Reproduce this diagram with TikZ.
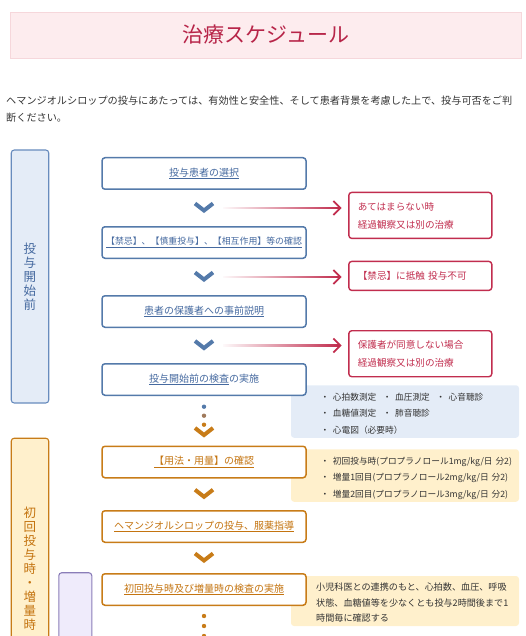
\documentclass[tikz,border=0pt]{standalone}
\usepackage{fontspec}
\setmainfont{Noto Sans CJK JP}
\usetikzlibrary{positioning,arrows.meta,calc}
\definecolor{schblue}{RGB}{84,122,170}
\definecolor{schbar}{RGB}{104,140,190}
\definecolor{schbtxt}{RGB}{70,106,160}
\definecolor{schbfill}{RGB}{228,236,247}
\definecolor{schred}{RGB}{193,45,78}
\definecolor{schttl}{RGB}{183,36,72}
\definecolor{schorg}{RGB}{200,124,24}
\definecolor{schotxt}{RGB}{196,116,16}
\definecolor{schofill}{RGB}{255,240,204}
\definecolor{schpfill}{RGB}{239,235,251}
\definecolor{schpurple}{RGB}{138,125,184}
\definecolor{schpink}{RGB}{253,236,238}
\definecolor{schpinkd}{RGB}{246,215,219}
\definecolor{schgray}{RGB}{51,51,51}
\definecolor{schbrown}{RGB}{160,122,92}
\tikzset{
  stepb/.style={draw=schblue,line width=1.5pt,rounded corners=3pt,fill=white,minimum width=204pt,minimum height=31.5pt,inner sep=0pt,text=schbtxt,font=\fontsize{10}{12}\selectfont},
  stepo/.style={stepb,draw=schorg,text=schotxt},
  phase/.style={rounded corners=3pt,line width=1.1pt,minimum width=37.5pt,inner sep=0pt,text width=14pt,align=center,font=\fontsize{12.5}{14}\selectfont},
  note/.style={draw=schred,line width=1.4pt,rounded corners=3pt,fill=white,minimum width=143pt,inner xsep=9pt,inner ysep=0pt,text width=125pt,align=left,text=schred,font=\fontsize{9.6}{18}\selectfont},
  infobox/.style={rounded corners=3pt,minimum width=228pt,minimum height=52.5pt,inner sep=0pt},
  infotxt/.style={anchor=base west,inner sep=0pt,text width=200pt,align=left,text=schgray,font=\fontsize{8.7}{16.5}\selectfont},
  chevb/.style={line width=4pt,schblue},
  chevo/.style={line width=4pt,schorg},
  nogo/.style={schred,line width=1.8pt,-{Straight Barb[length=7pt,width=14pt]}}
}

\begin{document}
\begin{tikzpicture}[x=1pt,y=-1pt]
  \useasboundingbox (0,0) rectangle (525,636); \clip (0,0) rectangle (525,636);
  \node[draw=schpinkd,fill=schpink,minimum width=511pt,minimum height=46pt,text=schttl,font=\fontsize{21}{21}\selectfont] (title) at (265.8,35) {治療スケジュール};
  \node[anchor=base west,inner sep=0pt,text width=515pt,align=left,text=schgray,font=\fontsize{10.15}{17}\selectfont] (lead) at (6,104.9)
    {ヘマンジオルシロップの投与にあたっては、有効性と安全性、そして患者背景を考慮した上で、投与可否をご判\\断ください。};

  \node[phase,draw=schbar,fill=schbfill,text=schbtxt,minimum height=253pt] (pre) at (30,276.5) {投\\与\\開\\始\\前};
  \node[phase,draw=schorg,fill=schofill,text=schotxt,minimum height=262pt] (first) at (30,569.2) {初\\回\\投\\与\\時\\・\\増\\量\\時};
  \node[phase,draw=schpurple,fill=schpfill,minimum width=33pt,minimum height=120pt] (check) at (75.3,632.7) {};

  \node[infobox,fill=schbfill] (i1) at (405,411.5) {};
  \node[infobox,fill=schofill] (i2) at (405,475.5) {};
  \node[infobox,fill=schofill,minimum height=50pt] (i3) at (405,601) {};
  \node[infotxt] (t1) at (320.5,400.1) {・\hspace{3.5pt}心拍数測定\hspace{6.5pt}・\hspace{3.5pt}血圧測定\hspace{6.5pt}・\hspace{3.5pt}心音聴診\\・\hspace{3.5pt}血糖値測定\hspace{6.5pt}・\hspace{3.5pt}肺音聴診\\・\hspace{3.5pt}心電図（必要時）};
  \node[infotxt] (t2) at (320.5,464.1) {・\hspace{3.5pt}初回投与時(プロプラノロール1mg/kg/日 分2)\\・\hspace{3.5pt}増量1回目(プロプラノロール2mg/kg/日 分2)\\・\hspace{3.5pt}増量2回目(プロプラノロール3mg/kg/日 分2)};
  \node[infotxt,font=\fontsize{9.1}{15.5}\selectfont] (t3) at (316,590.8) {小児科医との連携のもと、心拍数、血圧、呼吸\\状態、血糖値等を少なくとも投与2時間後まで1\\時間毎に確認する};

  \node[stepb] (b1) at (204,173.5) {\underline{投与患者の選択}};
  \node[stepb,font=\fontsize{8.9}{12}\selectfont] (b2) at (204,242.5) {\underline{【禁忌】、【慎重投与】、【相互作用】等の確認}};
  \node[stepb] (b3) at (204,311.5) {\underline{患者の保護者への事前説明}};
  \node[stepb] (b4) at (204,379.5) {\underline{投与開始前の検査}の実施};
  \node[stepo] (b5) at (204,462) {\underline{【用法・用量】の確認}};
  \node[stepo] (b6) at (204,526.5) {\underline{ヘマンジオルシロップの投与、服薬指導}};
  \node[stepo] (b7) at (204,589.5) {\underline{初回投与時及び増量時の検査の実施}};

  \node[note,minimum height=46pt] (r1) at (420.3,215.4) {あてはまらない時\\経過観察又は別の治療};
  \node[note,minimum height=29pt] (r2) at (420.3,275.9) {【禁忌】に抵触 投与不可};
  \node[note,minimum height=46pt] (r3) at (420.3,353.7) {保護者が同意しない場合\\経過観察又は別の治療};

  \coordinate (k1) at ($(b1.south)!0.5!(b2.north)$); \coordinate (k2) at ($(b2.south)!0.5!(b3.north)$);
  \coordinate (k3) at ($(b3.south)!0.5!(b4.north)$); \coordinate (k4) at ($(b5.north)+(0,-13)$);
  \coordinate (k5) at ($(b5.south)!0.5!(b6.north)$); \coordinate (k6) at ($(b6.south)!0.5!(b7.north)$);
  \foreach \k in {k1,k2,k3} \draw[chevb] (\k) ++(-9,-4.5) -- ++(9,7) -- ++(9,-7);
  \foreach \k in {k4,k5,k6} \draw[chevo] (\k) ++(-9,-4.5) -- ++(9,7) -- ++(9,-7);
  \foreach \k/\r in {k1/r1,k2/r2,k3/r3}{
    \shade[left color=schred!3,right color=schred] ($(\k)+(19,-0.9)$) rectangle ($(\r.west |- \k)+(-9,0.9)$);
    \draw[nogo] ($(\r.west |- \k)+(-12,0)$) -- ($(\r.west |- \k)+(-6.5,0)$);
  }

  \fill[schblue] ($(b4.south)+(0,10.7)$) circle[radius=2.2pt];
  \fill[schbrown] ($(b4.south)+(0,19.7)$) circle[radius=2.2pt];
  \fill[schorg] ($(b4.south)+(0,28.7)$) circle[radius=2.2pt];
  \foreach \d in {10,20,30} \fill[schorg] ($(b7.south)+(0,\d)$) circle[radius=2.2pt];
\end{tikzpicture}
\end{document}
